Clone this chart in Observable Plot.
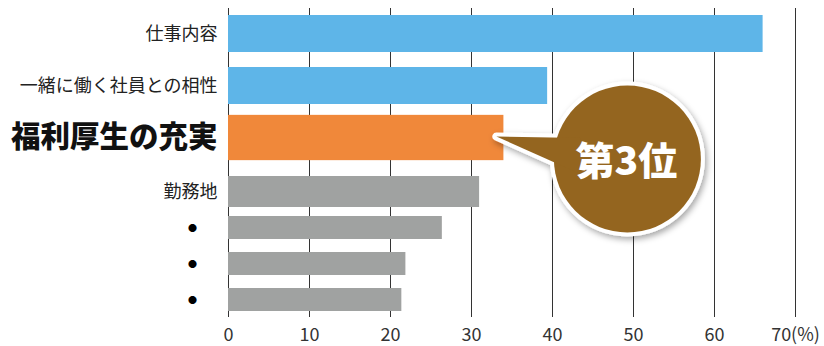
<!DOCTYPE html>
<html>
<head>
<meta charset="utf-8">
<script src="https://cdn.jsdelivr.net/npm/d3@7"></script>
<script src="https://cdn.jsdelivr.net/npm/@observablehq/plot@0.6"></script>
<style>
  body { margin: 0; background: #fff; font-family: "Noto Sans CJK JP", "Noto Sans", sans-serif; }
  #chart { width: 824px; height: 346px; position: relative; overflow: hidden; background: #fff; }
  #chart svg { display: block; }
</style>
</head>
<body>
<div id="chart"></div>
<script>
// ---- data ----
const labels = ["仕事内容", "一緒に働く社員との相性", "福利厚生の充実", "勤務地", "●", "●", "●"];
const values = [66.0, 39.4, 34.0, 31.0, 26.4, 21.9, 21.4];
const xTicks = [0, 10, 20, 30, 40, 50, 60, 70];
const unitLabel = "(%)";
const highlightRank = 3;
const calloutText = "第3位";

// ---- table built from the arrays ----
const rows = labels.map((label, i) => ({rank: i + 1, label, value: values[i]}));
const topRows = rows.filter(d => d.rank <= highlightRank);
const bottomRows = rows.filter(d => d.rank > highlightRank);

const FONT = "Noto Sans CJK JP";
const colorOf = d => d.rank === highlightRank ? "#F0883A" : d.rank < highlightRank ? "#5EB5E8" : "#A0A2A1";
const W = 824, mL = 228, mR = 29;

function bw(scale) {
  if (typeof scale.bandwidth === "function") return scale.bandwidth();
  return scale.bandwidth || 0;
}

// callout anchored at the end of the highlighted bar
function calloutMark(index, scales) {
  const x = scales.x, y = scales.y;
  const d = rows[highlightRank - 1];
  const tx = x(d.value) - 7;
  const ty = y(d.rank) + bw(y) / 2 - 1;
  const cx = tx + 131, cy = ty + 22.5, r = 73.5;
  const tri = [[tx, ty], [tx + 84, ty + 1.6], [tx + 84, ty + 37.5]];
  const triPath = "M" + tri.map(p => p.join(",")).join("L") + "Z";
  const g = d3.create("svg:g");
  const f = g.append("defs").append("filter").attr("id", "cshadow")
    .attr("x", "-40%").attr("y", "-40%").attr("width", "180%").attr("height", "180%");
  f.append("feDropShadow").attr("dx", 2).attr("dy", 3).attr("stdDeviation", 3)
    .attr("flood-color", "#000").attr("flood-opacity", 0.35);
  const back = g.append("g").attr("filter", "url(#cshadow)");
  back.append("circle").attr("cx", cx).attr("cy", cy).attr("r", r)
    .attr("fill", "#fff").attr("stroke", "#fff").attr("stroke-width", 8);
  back.append("path").attr("d", triPath).attr("fill", "#fff")
    .attr("stroke", "#fff").attr("stroke-width", 8).attr("stroke-linejoin", "round");
  g.append("circle").attr("cx", cx).attr("cy", cy).attr("r", r).attr("fill", "#94651F");
  g.append("path").attr("d", triPath).attr("fill", "#94651F");
  g.append("text").attr("x", cx - 1).attr("y", cy - 1)
    .attr("text-anchor", "middle").attr("dominant-baseline", "central")
    .attr("font-family", FONT).attr("font-size", 39).attr("font-weight", 900)
    .attr("fill", "#fff").text(calloutText);
  return g.node();
}

const topPlot = Plot.plot({
  width: W, height: 165,
  marginLeft: mL, marginRight: mR, marginTop: 8, marginBottom: 0,
  style: {fontFamily: FONT, fontSize: "18px", color: "#333", background: "transparent", overflow: "visible"},
  x: {domain: [0, 70], axis: null},
  y: {domain: topRows.map(d => d.rank), range: [7, 165], paddingInner: 0.284, paddingOuter: 0.142, axis: null},
  marks: [
    Plot.ruleX(xTicks, {stroke: "#333", strokeWidth: 1}),
    Plot.barX(topRows.filter(d => d.rank !== highlightRank), {x: "value", y: "rank", fill: colorOf}),
    Plot.barX(topRows.filter(d => d.rank === highlightRank), {x: "value", y: "rank", fill: colorOf, insetTop: -4.15, insetBottom: -4.15}),
    Plot.text(topRows.filter(d => d.rank !== highlightRank), {x: 0, y: "rank", text: "label", textAnchor: "end", dx: -11, fontSize: 18, fill: "#222", fontFamily: FONT}),
    Plot.text(topRows.filter(d => d.rank === highlightRank), {x: 0, y: "rank", text: "label", textAnchor: "end", dx: -11, fontSize: 29.5, fontWeight: 900, fill: "#111", fontFamily: FONT}),
    calloutMark
  ]
});

const bottomPlot = Plot.plot({
  width: W, height: 181,
  marginLeft: mL, marginRight: mR, marginTop: 0, marginBottom: 29,
  style: {fontFamily: FONT, fontSize: "18px", color: "#333", background: "transparent"},
  x: {domain: [0, 70], ticks: xTicks, tickSize: 0, tickPadding: 11, label: null,
      tickFormat: d => d === 70 ? d + unitLabel : String(d)},
  y: {domain: bottomRows.map(d => d.rank), range: [7.4, 152.2], paddingInner: 0.373, paddingOuter: 0.1865, axis: null},
  marks: [
    Plot.ruleX(xTicks, {stroke: "#333", strokeWidth: 1}),
    Plot.barX(bottomRows.filter(d => d.rank === highlightRank + 1), {x: "value", y: "rank", fill: colorOf, insetTop: -4, insetBottom: -4}),
    Plot.barX(bottomRows.filter(d => d.rank > highlightRank + 1), {x: "value", y: "rank", fill: colorOf}),
    Plot.text(bottomRows.filter(d => d.label !== "●"), {x: 0, y: "rank", text: "label", textAnchor: "end", dx: -11, fontSize: 18, fill: "#222", fontFamily: FONT}),
    Plot.text(bottomRows.filter(d => d.label === "●"), {x: 0, y: "rank", text: "label", textAnchor: "middle", dx: -36, fontSize: 9, fill: "#000", fontFamily: FONT})
  ]
});

topPlot.style.position = "relative";
topPlot.style.zIndex = "2";
topPlot.style.overflow = "visible";
bottomPlot.style.position = "relative";
bottomPlot.style.zIndex = "1";
const chart = document.getElementById("chart");
chart.appendChild(topPlot);
chart.appendChild(bottomPlot);
</script>
</body>
</html>
